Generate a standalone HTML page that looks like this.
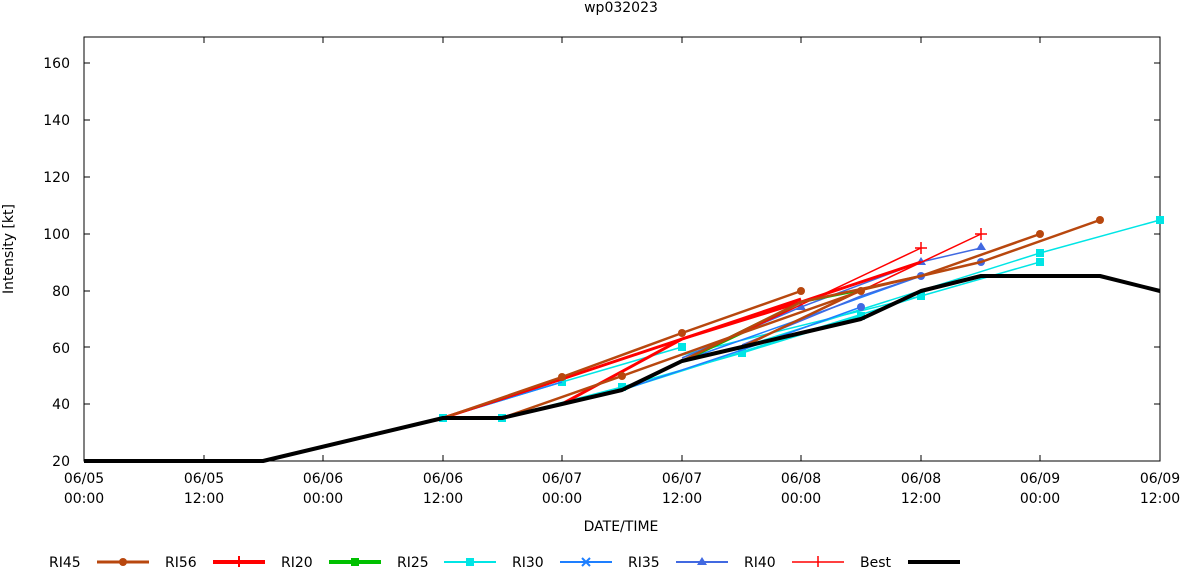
<!DOCTYPE html>
<html><head><meta charset="utf-8"><style>
html,body{margin:0;padding:0;background:#fff;}
svg{display:block;font-family:"DejaVu Sans","Liberation Sans",sans-serif;}
</style></head><body>
<svg width="1183" height="567" viewBox="0 0 1183 567" xmlns="http://www.w3.org/2000/svg">
<rect width="1183" height="567" fill="#fff"/>
<text x="621" y="12" font-size="14" text-anchor="middle">wp032023</text>
<rect x="84" y="37" width="1076" height="424" fill="none" stroke="#000" stroke-width="1"/>
<g font-size="14" text-anchor="end">
<text x="70" y="466">20</text><text x="70" y="409">40</text><text x="70" y="353">60</text>
<text x="70" y="296">80</text><text x="70" y="239">100</text><text x="70" y="182">120</text>
<text x="70" y="125">140</text><text x="70" y="68">160</text>
</g>
<g stroke="#000" stroke-width="1">
<path d="M84 404h6M84 347h6M84 291h6M84 234h6M84 177h6M84 120h6M84 63h6M1160 404h-6M1160 347h-6M1160 291h-6M1160 234h-6M1160 177h-6M1160 120h-6M1160 63h-6"/>
<path d="M204 461v-6M323 461v-6M443 461v-6M562 461v-6M682 461v-6M801 461v-6M921 461v-6M1040 461v-6M204 37v6M323 37v6M443 37v6M562 37v6M682 37v6M801 37v6M921 37v6M1040 37v6"/>
</g>
<g font-size="14" text-anchor="middle">
<text x="84" y="483">06/05</text><text x="84" y="503">00:00</text>
<text x="204" y="483">06/05</text><text x="204" y="503">12:00</text>
<text x="323" y="483">06/06</text><text x="323" y="503">00:00</text>
<text x="443" y="483">06/06</text><text x="443" y="503">12:00</text>
<text x="562" y="483">06/07</text><text x="562" y="503">00:00</text>
<text x="682" y="483">06/07</text><text x="682" y="503">12:00</text>
<text x="801" y="483">06/08</text><text x="801" y="503">00:00</text>
<text x="921" y="483">06/08</text><text x="921" y="503">12:00</text>
<text x="1040" y="483">06/09</text><text x="1040" y="503">00:00</text>
<text x="1160" y="483">06/09</text><text x="1160" y="503">12:00</text>
<text x="621" y="531">DATE/TIME</text>
</g>
<text transform="translate(13,249) rotate(-90)" font-size="14" text-anchor="middle">Intensity [kt]</text>

<g fill="none" stroke-linejoin="round">
<!-- cyan -->
<g stroke="#00e5e5" stroke-width="1.5">
<path d="M443 418L562 382L682 347"/>
<path d="M502 418L622 387L742 353L861 316"/>
<path d="M682 355L921 296L1040 262"/>
<path d="M742 347L1040 253L1160 220"/>
<path d="M622 390L801 333L921 296"/>
</g>
<g fill="#00e5e5"><rect x="439" y="414" width="8" height="8"/><rect x="558" y="378" width="8" height="8"/><rect x="678" y="343" width="8" height="8"/><rect x="498" y="414" width="8" height="8"/><rect x="618" y="383" width="8" height="8"/><rect x="738" y="349" width="8" height="8"/><rect x="857" y="312" width="8" height="8"/><rect x="917" y="292" width="8" height="8"/><rect x="1036" y="258" width="8" height="8"/><rect x="1036" y="249" width="8" height="8"/><rect x="1156" y="216" width="8" height="8"/></g>
<!-- blues -->
<g stroke="#1e7fff" stroke-width="1.5">
<path d="M443 418L562 382"/>
<path d="M682 361L801 319L921 276L981 262"/>
<path d="M622 390L742 350L861 307"/>
</g>
<g stroke="#4169e1" stroke-width="1.5">
<path d="M682 358L801 307L921 262L981 248"/>
<path d="M742 345L861 296L921 276L981 262"/>
</g>
<g fill="#4169e1"><path d="M981 242l5 8h-10z"/><path d="M921 257l5 8h-10z"/><path d="M801 302l5 8h-10z"/><circle cx="981" cy="262" r="4"/><circle cx="921" cy="276" r="4"/><circle cx="861" cy="307" r="4"/></g>
<!-- green -->
<g stroke="#00c000" stroke-width="2.5">
<path d="M622 390L742 333L801 302"/>
<path d="M682 361L801 302L861 290"/>
</g>
<!-- red -->
<g stroke="#ff0000" stroke-width="3">
<path d="M443 418L562 379L682 339L801 299"/>
<path d="M562 404L682 339L801 302L921 262"/>
</g>
<g stroke="#ff0000" stroke-width="1.5">
<path d="M682 361L921 248"/>
<path d="M742 347L981 234"/>
<path d="M921 242v12M915 248h12M981 228v12M975 234h12"/>
</g>
<!-- brown -->
<g stroke="#b8470e" stroke-width="2.5">
<path d="M443 418L562 377L682 333L801 291"/>
<path d="M502 418L622 376L742 333L861 291"/>
<path d="M682 361L801 302L921 276L1040 234"/>
<path d="M742 347L861 290L981 262L1100 220"/>
</g>
<g fill="#b8470e"><circle cx="562" cy="377" r="4"/><circle cx="682" cy="333" r="4"/><circle cx="801" cy="291" r="4"/><circle cx="622" cy="376" r="4"/><circle cx="861" cy="291" r="4"/><circle cx="1040" cy="234" r="4"/><circle cx="1100" cy="220" r="4"/></g>
<!-- best -->
<path d="M84 461L263 461L443 418L502 418L562 404L622 390L682 361L742 347L801 333L861 319L921 291L981 276L1100 276L1160 291" stroke="#000" stroke-width="4"/>
</g>

<!-- legend -->
<g font-size="14">
<text x="49" y="567">RI45</text><text x="165" y="567">RI56</text><text x="281" y="567">RI20</text><text x="397" y="567">RI25</text><text x="512" y="567">RI30</text><text x="628" y="567">RI35</text><text x="744" y="567">RI40</text><text x="860" y="567">Best</text>
</g>
<g fill="none">
<path d="M97 562h52" stroke="#b8470e" stroke-width="3"/>
<path d="M213 562h52" stroke="#ff0000" stroke-width="4"/><path d="M239 556v12" stroke="#ff0000" stroke-width="2"/>
<path d="M329 562h52" stroke="#00c000" stroke-width="4"/>
<path d="M444 562h52" stroke="#00e5e5" stroke-width="2"/>
<path d="M560 562h52" stroke="#1e7fff" stroke-width="2"/>
<path d="M676 562h52" stroke="#4169e1" stroke-width="2"/>
<path d="M792 562h52" stroke="#ff0000" stroke-width="1.5"/><path d="M818 556v12" stroke="#ff0000" stroke-width="1.5"/>
<path d="M908 562h52" stroke="#000" stroke-width="4"/>
</g>
<circle cx="123" cy="562" r="4" fill="#b8470e"/>
<rect x="351" y="558" width="8" height="8" fill="#00c000"/>
<rect x="466" y="558" width="8" height="8" fill="#00e5e5"/>
<path d="M582 558l8 8M590 558l-8 8" stroke="#1e7fff" stroke-width="2"/>
<path d="M702 557l5 8h-10z" fill="#4169e1"/>
</svg>
</body></html>
